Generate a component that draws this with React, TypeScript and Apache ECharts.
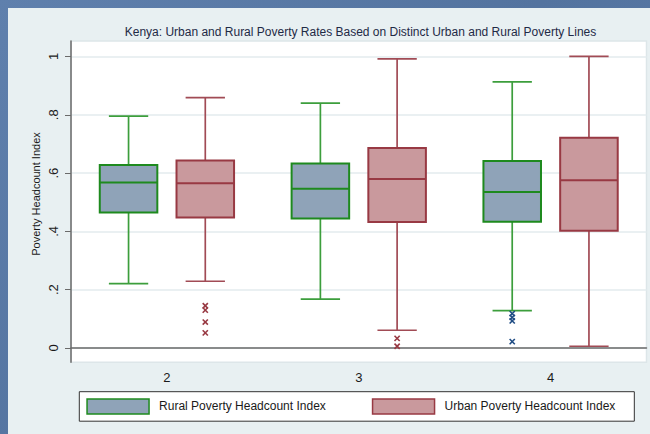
import { useEffect, useRef } from "react";
import * as echarts from "echarts";

const categories = ["2", "3", "4"];

const ruralMin = [0.221, 0.168, 0.128];
const ruralQ1 = [0.465, 0.444, 0.433];
const ruralMedian = [0.568, 0.546, 0.535];
const ruralQ3 = [0.628, 0.633, 0.641];
const ruralMax = [0.795, 0.840, 0.913];

const urbanMin = [0.229, 0.061, 0.006];
const urbanQ1 = [0.448, 0.432, 0.402];
const urbanMedian = [0.565, 0.580, 0.575];
const urbanQ3 = [0.643, 0.686, 0.721];
const urbanMax = [0.859, 0.992, 1.0];

const ruralOutlierCategory = [2, 2, 2, 2];
const ruralOutlierValue = [0.118, 0.105, 0.093, 0.022];
const urbanOutlierCategory = [0, 0, 0, 0, 1, 1];
const urbanOutlierValue = [0.145, 0.13, 0.089, 0.052, 0.033, 0.006];

const yTickValues = [0, 0.2, 0.4, 0.6, 0.8, 1];
const yTickLabels = ["0", ".2", ".4", ".6", ".8", "1"];

const titleText = "Kenya: Urban and Rural Poverty Rates Based on Distinct Urban and Rural Poverty Lines";
const yAxisTitle = "Poverty Headcount Index";
const ruralName = "Rural Poverty Headcount Index";
const urbanName = "Urban Poverty Headcount Index";

const FONT = "'Liberation Sans', Arial, Helvetica, sans-serif";

const RURAL = { fill: "#8fa3b8", stroke: "#1e8a1e", whisker: "#3c9e3c", outlier: "#1f4c84" };
const URBAN = { fill: "#c9999d", stroke: "#983943", whisker: "#a14b55", outlier: "#983943" };

function boxRenderer(offset: number, colors: typeof RURAL) {
  return (_params: any, api: any) => {
    const cat = api.value(0);
    const band = api.size([1, 0])[0];
    const cx = api.coord([cat, 0])[0] + offset * band;
    const bw = band * 0.3;
    const cw = band * 0.205;
    const y = (i: number) => api.coord([cat, api.value(i)])[1];
    const yMin = y(1), yQ1 = y(2), yMed = y(3), yQ3 = y(4), yMax = y(5);
    const ws = { stroke: colors.whisker, lineWidth: 1.7 };
    return {
      type: "group",
      children: [
        { type: "line", shape: { x1: cx, y1: yMax, x2: cx, y2: yQ3 }, style: ws },
        { type: "line", shape: { x1: cx, y1: yQ1, x2: cx, y2: yMin }, style: ws },
        { type: "line", shape: { x1: cx - cw / 2, y1: yMax, x2: cx + cw / 2, y2: yMax }, style: ws },
        { type: "line", shape: { x1: cx - cw / 2, y1: yMin, x2: cx + cw / 2, y2: yMin }, style: ws },
        {
          type: "rect",
          shape: { x: cx - bw / 2, y: yQ3, width: bw, height: yQ1 - yQ3 },
          style: { fill: colors.fill, stroke: colors.stroke, lineWidth: 2 },
        },
        {
          type: "line",
          shape: { x1: cx - bw / 2, y1: yMed, x2: cx + bw / 2, y2: yMed },
          style: { stroke: colors.stroke, lineWidth: 2 },
        },
      ],
    };
  };
}

function outlierRenderer(offset: number, color: string) {
  return (_params: any, api: any) => {
    const cat = api.value(0);
    const band = api.size([1, 0])[0];
    const p = api.coord([cat, api.value(1)]);
    const cx = p[0] + offset * band;
    const cy = p[1];
    const s = 2.6;
    const st = { stroke: color, lineWidth: 1.6 };
    return {
      type: "group",
      children: [
        { type: "line", shape: { x1: cx - s, y1: cy - s, x2: cx + s, y2: cy + s }, style: st },
        { type: "line", shape: { x1: cx - s, y1: cy + s, x2: cx + s, y2: cy - s }, style: st },
      ],
    };
  };
}

export default function App() {
  const ref = useRef<HTMLDivElement>(null);

  useEffect(() => {
    if (!ref.current) return;
    const chart = echarts.init(ref.current, undefined, { renderer: "svg" });

    const ruralData = categories.map((_, i) => [i, ruralMin[i], ruralQ1[i], ruralMedian[i], ruralQ3[i], ruralMax[i]]);
    const urbanData = categories.map((_, i) => [i, urbanMin[i], urbanQ1[i], urbanMedian[i], urbanQ3[i], urbanMax[i]]);
    const ruralOut = ruralOutlierCategory.map((c, i) => [c, ruralOutlierValue[i]]);
    const urbanOut = urbanOutlierCategory.map((c, i) => [c, urbanOutlierValue[i]]);

    const labelFor = (v: number) => {
      let best = 0;
      for (let i = 0; i < yTickValues.length; i++) {
        if (Math.abs(yTickValues[i] - v) < Math.abs(yTickValues[best] - v)) best = i;
      }
      return yTickLabels[best];
    };

    chart.setOption({
      animation: false,
      backgroundColor: "#e8f0f2",
      textStyle: { fontFamily: FONT },
      graphic: [
        {
          type: "text",
          x: 352.5,
          y: 24,
          style: {
            text: titleText,
            fontFamily: FONT,
            fontSize: 12,
            fill: "#1f2a46",
            textAlign: "center",
            textVerticalAlign: "middle",
          },
        },
        {
          type: "text",
          x: 28,
          y: 186,
          rotation: Math.PI / 2,
          style: {
            text: yAxisTitle,
            fontFamily: FONT,
            fontSize: 11,
            fill: "#1a1a1a",
            textAlign: "center",
            textVerticalAlign: "middle",
          },
        },
      ],
      grid: {
        left: 63,
        top: 33,
        right: 3.5,
        bottom: 71.7,
        show: true,
        backgroundColor: "#ffffff",
        borderColor: "#dde6e9",
        borderWidth: 1.5,
      },
      legend: {
        left: 71.3,
        top: 383.7,
        orient: "horizontal",
        backgroundColor: "#ffffff",
        borderColor: "#333333",
        borderWidth: 1,
        borderRadius: 0,
        padding: [6.5, 19, 6.5, 7],
        itemWidth: 62,
        itemHeight: 15,
        itemGap: 46,
        icon: "rect",
        textStyle: { fontFamily: FONT, fontSize: 12, color: "#1a1a1a", padding: [0, 0, 0, 5] },
        data: [
          { name: ruralName, itemStyle: { color: RURAL.fill, borderColor: RURAL.stroke, borderWidth: 1.5 } },
          { name: urbanName, itemStyle: { color: URBAN.fill, borderColor: URBAN.stroke, borderWidth: 1.5 } },
        ],
      },
      xAxis: {
        type: "category",
        data: categories,
        boundaryGap: true,
        axisLine: { show: true, lineStyle: { color: "#6a6a6a", width: 1.5 } },
        axisTick: { show: false },
        axisLabel: { fontFamily: FONT, fontSize: 13, color: "#1a1a1a", margin: 9 },
        splitLine: { show: false },
      },
      yAxis: {
        type: "value",
        min: -0.049,
        max: 1.053,
        axisLine: { show: true, lineStyle: { color: "#6a6a6a", width: 1.5 } },
        axisTick: {
          show: true,
          length: 6,
          customValues: yTickValues,
          lineStyle: { color: "#6a6a6a", width: 1 },
        },
        axisLabel: {
          customValues: yTickValues,
          rotate: 90,
          fontFamily: FONT,
          fontSize: 13,
          color: "#1a1a1a",
          margin: 11,
          formatter: (v: number) => labelFor(v),
        },
        splitLine: { show: true, lineStyle: { color: "#e3ebee", width: 1.5 } },
      },
      series: [
        {
          type: "custom",
          name: ruralName,
          data: ruralData,
          encode: { x: 0, y: [1, 2, 3, 4, 5] },
          itemStyle: { color: RURAL.fill, borderColor: RURAL.stroke, borderWidth: 1.5 },
          renderItem: boxRenderer(-0.2, RURAL),
          z: 3,
        },
        {
          type: "custom",
          name: urbanName,
          data: urbanData,
          encode: { x: 0, y: [1, 2, 3, 4, 5] },
          itemStyle: { color: URBAN.fill, borderColor: URBAN.stroke, borderWidth: 1.5 },
          renderItem: boxRenderer(0.2, URBAN),
          z: 3,
        },
        {
          type: "custom",
          name: "Rural outliers",
          data: ruralOut,
          encode: { x: 0, y: 1 },
          renderItem: outlierRenderer(-0.2, RURAL.outlier),
          z: 4,
        },
        {
          type: "custom",
          name: "Urban outliers",
          data: urbanOut,
          encode: { x: 0, y: 1 },
          renderItem: outlierRenderer(0.2, URBAN.outlier),
          z: 4,
        },
      ],
    });

    return () => chart.dispose();
  }, []);

  return (
    <div
      style={{
        position: "absolute",
        left: 0,
        top: 0,
        width: 650,
        height: 434,
        background: "linear-gradient(135deg, #5f80ad 0%, #53739f 50%, #5b7caa 100%)",
        overflow: "hidden",
      }}
    >
      <div ref={ref} style={{ position: "absolute", left: 8, top: 8, width: 642, height: 426 }} />
    </div>
  );
}
